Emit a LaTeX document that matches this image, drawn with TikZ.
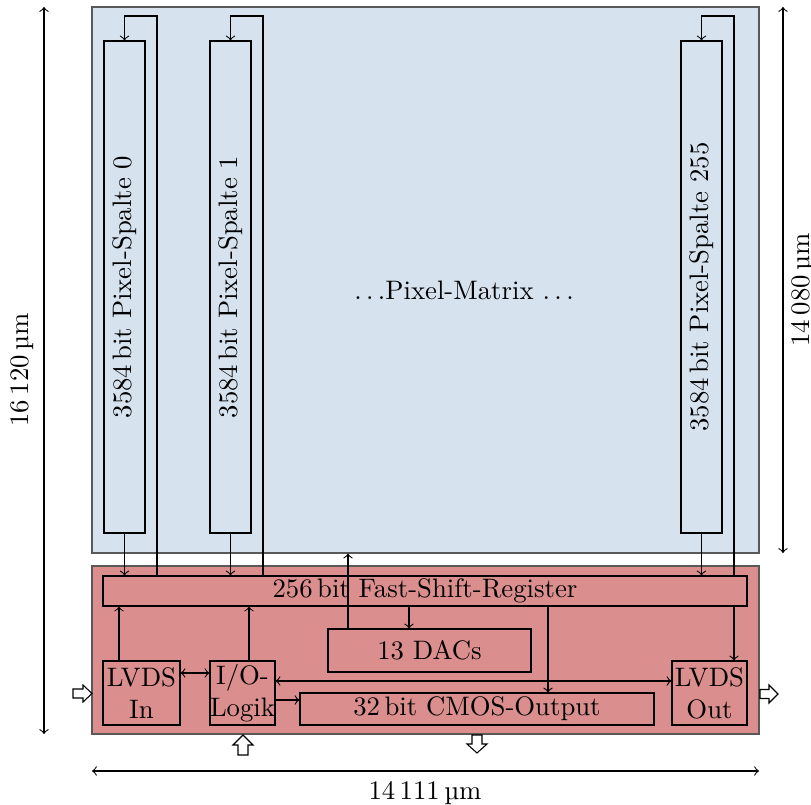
\documentclass[tikz,border=0pt]{standalone}
\usepackage{fontspec}
\usetikzlibrary{fit}
\definecolor{matblue}{RGB}{214,226,238}
\definecolor{perired}{RGB}{219,142,142}
\begin{document}
\begin{tikzpicture}[x=0.3742pt,y=-0.3742pt,>=to,
  area/.style={draw=black!65,inner sep=0pt},
  box/.style={draw,inner sep=0pt,align=center},
  hollow/.style={draw,fill=white}]
\useasboundingbox (0,0) rectangle (811,805);
% areas
\node[area,fill=matblue,fit={(92,7)(759,553)}] (mat) {};
\node[area,fill=perired,fit={(92,566)(759,734)}] (per) {};
\node at (464,290) (mattext) {$\ldots$Pixel-Matrix $\ldots$};
% pixel columns
\node[box,fit={(104,41)(145,533)}] (c0) {};
\node[box,fit={(210,41)(251,533)}] (c1) {};
\node[box,fit={(681,41)(722,533)}] (c255) {};
\node[rotate=90] at (c0.center) (t0) {3584\,bit Pixel-Spalte 0};
\node[rotate=90] at (c1.center) (t1) {3584\,bit Pixel-Spalte 1};
\node[rotate=90] at (c255.center) (t255) {3584\,bit Pixel-Spalte 255};
% periphery boxes
\node[box,fit={(103,576)(747,606)}] (sr) {};
\node at (sr.center) (srt) {256\,bit Fast-Shift-Register};
\node[box,fit={(328,629)(531,672)}] (dac) {};
\node at (dac.center) (dact) {13 DACs};
\node[box,fit={(103,661)(180,725)}] (lin) {};
\node[align=center] at (lin.center) (lint) {LVDS\\In};
\node[box,fit={(210,661)(275,725)}] (io) {};
\node[align=center] at (io.center) (iot) {I/O-\\Logik};
\node[box,fit={(300,693)(654,725)}] (cmos) {};
\node at (cmos.center) (cmost) {32\,bit CMOS-Output};
\node[box,fit={(672,661)(747,725)}] (lout) {};
\node[align=center] at (lout.center) (loutt) {LVDS\\Out};
% helper coordinates
\coordinate (r0) at (157,16);
\coordinate (r1) at (263,16);
\coordinate (r255) at (734,16);
\coordinate (dacup) at (348,0);
\coordinate (s2d) at (409,0);
\coordinate (s2c) at (548,0);
\coordinate (s2o) at (734,0);
\coordinate (li2s) at (119,0);
\coordinate (io2s) at (249,0);
\coordinate (y1) at (0,673);
\coordinate (y2) at (0,681);
\coordinate (y3) at (0,700);
% column connections
\foreach \c/\r in {c0/r0,c1/r1,c255/r255}{
  \draw[->] (\c.south) -- (\c.south |- sr.north);
  \draw[->] (\r |- sr.north) -- (\r) -| (\c.north);
}
\draw[->] (dacup |- dac.north) -- (dacup |- mat.south);
\draw[->] (s2d |- sr.south) -- (s2d |- dac.north);
\draw[->] (s2c |- sr.south) -- (s2c |- cmos.north);
\draw[->] (s2o |- sr.south) -- (s2o |- lout.north);
\draw[->] (li2s |- lin.north) -- (li2s |- sr.south);
\draw[->] (io2s |- io.north) -- (io2s |- sr.south);
\draw[<->] (lin.east |- y1) -- (io.west |- y1);
\draw[<->] (io.east |- y2) -- (lout.west |- y2);
\draw[->] (io.east |- y3) -- (cmos.west |- y3);
% hollow I/O arrows
\draw[hollow] (73,689) -- (83,689) -- (83,685) -- (92,693.5) -- (83,702) -- (83,698) -- (73,698) -- cycle;
\draw[hollow] (760,689.5) -- (769,689.5) -- (769,685) -- (778,694) -- (769,703) -- (769,698.5) -- (760,698.5) -- cycle;
\draw[hollow] (243,735) -- (253,745) -- (248,745) -- (248,755) -- (238,755) -- (238,745) -- (233,745) -- cycle;
\draw[hollow] (472,735) -- (482,735) -- (482,744) -- (487,744) -- (477,753) -- (467,744) -- (472,744) -- cycle;
% dimensions
\coordinate (dl1) at (44,7);
\coordinate (dl2) at (44,734);
\coordinate (dr1) at (783,7);
\coordinate (dr2) at (783,553);
\coordinate (db1) at (92,771);
\coordinate (db2) at (759,771);
\draw[<->] (dl1) -- (dl2);
\draw[<->] (dr1) -- (dr2);
\draw[<->] (db1) -- (db2);
\node[rotate=90] at (22,370) (dlt) {16\,120\,µm};
\node[rotate=90] at (803,290) (drt) {14\,080\,µm};
\node at (425,793) (dbt) {14\,111\,µm};
\end{tikzpicture}
\end{document}
